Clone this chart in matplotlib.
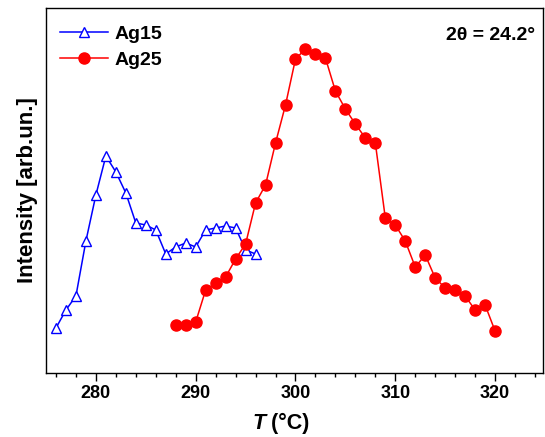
import numpy as np
import matplotlib.pyplot as plt

plt.rcParams['font.family'] = ['Liberation Sans', 'DejaVu Sans']
plt.rcParams['font.weight'] = 'bold'

# temperatures (°C) and intensities (arb. units)
t_ag15 = np.arange(276, 297)
i_ag15 = [45, 63, 77, 132, 178, 217, 201, 180, 150, 148, 143,
          119, 126, 130, 126, 143, 145, 147, 145, 123, 119]

t_ag25 = np.arange(288, 321)
i_ag25 = [48, 48, 51, 83, 90, 96, 114, 129, 170, 188, 230, 268,
          314, 324, 319, 315, 282, 264, 249, 235, 230, 155, 148,
          132, 106, 118, 95, 85, 83, 77, 63, 68, 42]

fig = plt.figure(figsize=(5.45, 4.37), dpi=100)
ax = fig.add_axes([0.0844, 0.1465, 0.9119, 0.8352])

ax.plot(t_ag15, i_ag15, color='#0000FF', lw=1.1, marker='^', ms=7,
        mfc='white', mec='#0000FF', mew=1.0, label='Ag15')
ax.plot(t_ag25, i_ag25, color='#FF0000', lw=1.1, marker='o', ms=8,
        mfc='#FF0000', mec='#FF0000', label='Ag25')

ax.set_xlim(275, 324.8)
ax.set_ylim(0, 365)
ax.set_xticks(np.arange(280, 321, 10))
ax.set_xticks(np.arange(276, 325, 2), minor=True)
ax.set_yticks([])
ax.tick_params(axis='x', which='major', length=6, width=1, labelsize=13, pad=3)
ax.tick_params(axis='x', which='minor', length=3, width=1)
for lab in ax.get_xticklabels():
    lab.set_fontweight('bold')
for sp in ax.spines.values():
    sp.set_linewidth(1)

# x label: italic T followed by the unit
fig.text(0.487, 0.008, 'T', fontsize=15.5, fontweight='bold', style='italic',
         ha='right', va='bottom')
fig.text(0.487, 0.008, ' (°C)', fontsize=15.5, fontweight='bold',
         ha='left', va='bottom')
ax.set_ylabel('Intensity [arb.un.]', fontsize=16, fontweight='bold', labelpad=6)

ax.text(0.985, 0.925, '2θ = 24.2°', transform=ax.transAxes, fontsize=14,
        fontweight='bold', ha='right', va='center')

ax.legend(loc='upper left', bbox_to_anchor=(0.0, 0.99), frameon=False,
          prop={'size': 14, 'weight': 'bold'}, handlelength=2.5,
          handletextpad=0.3, labelspacing=0.42, borderaxespad=0.3)

fig.savefig('out.png', dpi=100)
